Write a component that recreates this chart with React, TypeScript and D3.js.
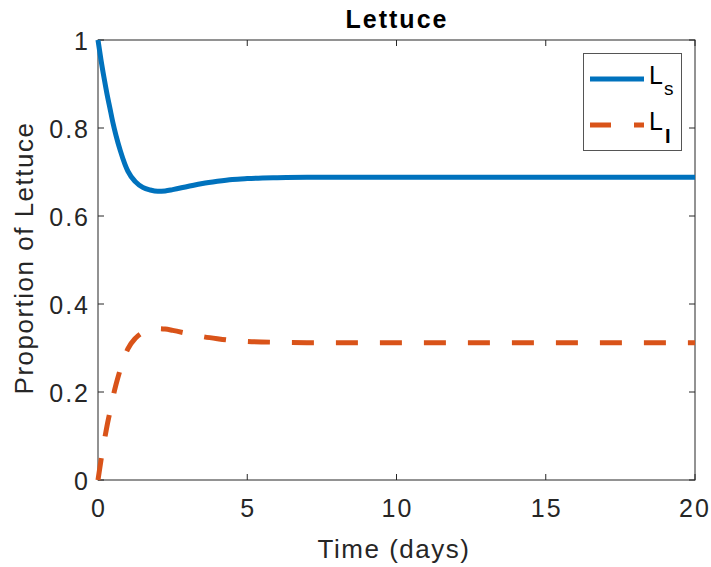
import React from "react";
import * as d3 from "d3";

const timeDays = [0, 0.1, 0.2, 0.3, 0.4, 0.5, 0.6, 0.75, 0.9, 1, 1.25, 1.5, 1.75, 2, 2.25, 2.5, 3, 3.5, 4, 4.5, 5, 6, 7, 8, 10, 12, 15, 20];
const lettuceS = [1, 0.955, 0.915, 0.878, 0.845, 0.812, 0.784, 0.748, 0.718, 0.702, 0.678, 0.665, 0.659, 0.656, 0.657, 0.66, 0.667, 0.674, 0.679, 0.683, 0.685, 0.687, 0.688, 0.688, 0.688, 0.688, 0.688, 0.688];
const lettuceI = [0, 0.045, 0.085, 0.122, 0.155, 0.188, 0.216, 0.252, 0.282, 0.298, 0.322, 0.335, 0.341, 0.344, 0.343, 0.34, 0.333, 0.326, 0.321, 0.317, 0.315, 0.313, 0.312, 0.312, 0.312, 0.312, 0.312, 0.312];
const xTicks = [0, 5, 10, 15, 20];
const yTicks = [0, 0.2, 0.4, 0.6, 0.8, 1];
const yTickLabels = ["0", "0.2", "0.4", "0.6", "0.8", "1"];

const W = 711, H = 567;
const M = { left: 98, right: 695, top: 40, bottom: 480 };
const FONT = "'Liberation Sans', Arial, Helvetica, sans-serif";
const AX = "#262626";

export default function App() {
  const x = d3.scaleLinear().domain([0, 20]).range([M.left, M.right]);
  const y = d3.scaleLinear().domain([0, 1]).range([M.bottom, M.top]);
  const line = d3.line<number>().x((_, i) => x(timeDays[i])).y((d) => y(d)).curve(d3.curveMonotoneX);
  const tickLen = 6;
  const tickSp = 2;
  return (
    <div style={{ position: "absolute", left: 0, top: 0 }}>
      <svg width={W} height={H} style={{ display: "block", background: "#fff" }} fontFamily={FONT}>
        <rect x={0} y={0} width={W} height={H} fill="#fff" />
        {xTicks.map((t) => (
          <g key={"xt" + t} stroke={AX} strokeWidth={1}>
            <line x1={x(t)} x2={x(t)} y1={M.bottom} y2={M.bottom - tickLen} />
            <line x1={x(t)} x2={x(t)} y1={M.top} y2={M.top + tickLen} />
          </g>
        ))}
        {yTicks.map((t) => (
          <g key={"yt" + t} stroke={AX} strokeWidth={1}>
            <line x1={M.left} x2={M.left + tickLen} y1={y(t)} y2={y(t)} />
            <line x1={M.right} x2={M.right - tickLen} y1={y(t)} y2={y(t)} />
          </g>
        ))}
        <rect x={M.left} y={M.top} width={M.right - M.left} height={M.bottom - M.top} fill="none" stroke={AX} strokeWidth={1} />
        <path d={line(lettuceS) || ""} fill="none" stroke="#0072BD" strokeWidth={5} />
        <path d={line(lettuceI) || ""} fill="none" stroke="#D95319" strokeWidth={5} strokeDasharray="22,22" />
        {xTicks.map((t) => (
          <text key={"xl" + t} x={x(t) + (t === 20 ? 0 : tickSp / 2)} y={516.5} textAnchor="middle" fontSize={25} fill={AX} letterSpacing={tickSp}>
            {t}
          </text>
        ))}
        {yTicks.map((t, i) => (
          <text key={"yl" + t} x={88 + tickSp} y={y(t) + 10} textAnchor="end" fontSize={25} fill={AX} letterSpacing={tickSp}>
            {yTickLabels[i]}
          </text>
        ))}
        <text x={394} y={558} textAnchor="middle" fontSize={26} fill={AX} letterSpacing={1.5}>
          Time (days)
        </text>
        <text transform={`translate(33,258) rotate(-90)`} textAnchor="middle" fontSize={26} fill={AX} letterSpacing={1.5}>
          Proportion of Lettuce
        </text>
        <text x={397} y={28} textAnchor="middle" fontSize={25} fontWeight="bold" fill="#000" letterSpacing={2}>
          Lettuce
        </text>
        <rect x={583.5} y={53.5} width={98} height={97} fill="#fff" stroke="#555" strokeWidth={1} />
        <line x1={590} x2={644} y1={79} y2={79} stroke="#0072BD" strokeWidth={5} />
        <line x1={590} x2={644} y1={125} y2={125} stroke="#D95319" strokeWidth={5} strokeDasharray="21,23" />
        <text x={649} y={83.5} fontSize={25} fill="#000">L</text>
        <text x={664} y={95} fontSize={19} fill="#000">s</text>
        <text x={649} y={130} fontSize={25} fill="#000">L</text>
        <text x={665} y={143} fontSize={20} fontWeight="bold" fill="#000">I</text>
      </svg>
    </div>
  );
}
